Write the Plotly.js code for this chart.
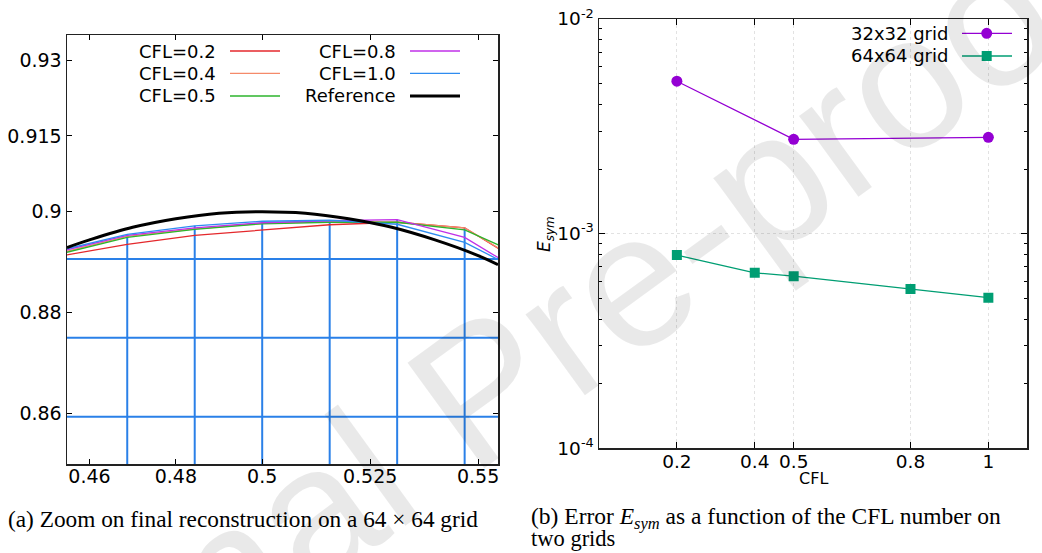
<!DOCTYPE html>
<html><head><meta charset="utf-8">
<script src="https://cdn.plot.ly/plotly-3.0.1.min.js"></script>
<style>html,body{margin:0;padding:0;background:#fff;}#chart{width:1042px;height:553px;}</style>
</head><body><div id="chart"></div>
<script>
// ---------- Panel (a): zoom on final reconstruction, 64x64 grid ----------
const meshX = [0.46875, 0.484375, 0.5, 0.515625, 0.53125, 0.546875];
const meshY = [0.859375, 0.875, 0.890625];
const cellX = [0.453125, 0.46875, 0.484375, 0.5, 0.515625, 0.53125, 0.546875, 0.5625];
const cfl02 = [0.8912, 0.8935, 0.8953, 0.8964, 0.8974, 0.8979, 0.8968, 0.8886];
const cfl04 = [0.8918, 0.8951, 0.8966, 0.8977, 0.8981, 0.8979, 0.8968, 0.8888];
const cfl05 = [0.8916, 0.8949, 0.8965, 0.8976, 0.8979, 0.8979, 0.8964, 0.8904];
const cfl08 = [0.8921, 0.8953, 0.8968, 0.8978, 0.8982, 0.8984, 0.8949, 0.8868];
const cfl10 = [0.8923, 0.8955, 0.8972, 0.8981, 0.8983, 0.8975, 0.8939, 0.8871];
const refX = [0.4548, 0.46, 0.47, 0.48, 0.49, 0.5, 0.51, 0.52, 0.53, 0.54, 0.55, 0.5546];
const refY = [0.8929, 0.8944, 0.8969, 0.8986, 0.8997, 0.9, 0.8997, 0.8986, 0.8969, 0.8944, 0.8913, 0.8895];
const aXTicks = [0.46, 0.48, 0.5, 0.525, 0.55];
const aXTickText = ['0.46', '0.48', '0.5', '0.525', '0.55'];
const aYTicks = [0.86, 0.88, 0.9, 0.915, 0.93];
const aYTickText = ['0.86', '0.88', '0.9', '0.915', '0.93'];
const aXRange = [0.4548, 0.5546];
const aYRange = [0.85, 0.935];

// ---------- Panel (b): E_sym vs CFL ----------
const cflTicks = [0.2, 0.4, 0.5, 0.8, 1];
const cflTickText = ['0.2', '0.4', '0.5', '0.8', '1'];
const grid32CFL = [0.2, 0.5, 1];
const grid32Err = [5.13e-3, 2.75e-3, 2.81e-3];
const grid64CFL = [0.2, 0.4, 0.5, 0.8, 1];
const grid64Err = [7.95e-4, 6.57e-4, 6.34e-4, 5.52e-4, 5.03e-4];
const bYTicks = [1e-4, 1e-3, 1e-2];
const bYTickText = ['10<sup>-4</sup>', '10<sup>-3</sup>', '10<sup>-2</sup>'];
const bYMinor = [2e-4,3e-4,4e-4,5e-4,6e-4,7e-4,8e-4,9e-4,2e-3,3e-3,4e-3,5e-3,6e-3,7e-3,8e-3,9e-3];

const W = 1042, H = 553;
const px = v => v / W, py = v => 1 - v / H;

const seriesA = [
  {name: 'CFL=0.2', y: cfl02, color: '#e4282c'},
  {name: 'CFL=0.4', y: cfl04, color: '#f58a6a'},
  {name: 'CFL=0.5', y: cfl05, color: '#2cb52c'},
  {name: 'CFL=0.8', y: cfl08, color: '#c030e8'},
  {name: 'CFL=1.0', y: cfl10, color: '#2e8cf0'}
];

const traces = [];
// mesh lines: horizontal full width, vertical from bottom up to the reconstructed interface
const mvx = [], mvy = [];
meshX.forEach(m => {
  const i = cellX.indexOf(m);
  const top = Math.max(...seriesA.map(s => s.y[i]));
  mvx.push(m, m, null); mvy.push(aYRange[0], top, null);
});
meshY.forEach(m => { mvx.push(aXRange[0], aXRange[1], null); mvy.push(m, m, null); });
traces.push({x: mvx, y: mvy, mode: 'lines', line: {color: '#2a80e8', width: 2}, xaxis: 'x', yaxis: 'y', showlegend: false, hoverinfo: 'skip'});
seriesA.forEach(s => traces.push({x: cellX, y: s.y, mode: 'lines', name: s.name, line: {color: s.color, width: 1.3}, xaxis: 'x', yaxis: 'y', showlegend: false}));
traces.push({x: refX, y: refY, mode: 'lines', name: 'Reference', line: {color: '#000', width: 3, shape: 'spline'}, xaxis: 'x', yaxis: 'y', showlegend: false});

traces.push({x: grid32CFL, y: grid32Err, mode: 'lines+markers', name: '32x32 grid', line: {color: '#9400d3', width: 1.3}, marker: {symbol: 'circle', size: 11, color: '#9400d3'}, xaxis: 'x2', yaxis: 'y2', showlegend: false});
traces.push({x: grid64CFL, y: grid64Err, mode: 'lines+markers', name: '64x64 grid', line: {color: '#009e73', width: 1.3}, marker: {symbol: 'square', size: 10, color: '#009e73'}, xaxis: 'x2', yaxis: 'y2', showlegend: false});

const legFont = {family: 'DejaVu Sans', size: 18, color: '#000'};
const tickFontA = {family: 'DejaVu Sans', size: 19, color: '#000'};
const tickFontB = {family: 'DejaVu Sans', size: 18.5, color: '#000'};
const annotations = [];
const shapes = [];

// legend (a)
const legA = [
  {t: 'CFL=0.2', c: '#e4282c', w: 1.3, col: 0, row: 0},
  {t: 'CFL=0.4', c: '#f58a6a', w: 1.3, col: 0, row: 1},
  {t: 'CFL=0.5', c: '#2cb52c', w: 1.3, col: 0, row: 2},
  {t: 'CFL=0.8', c: '#c030e8', w: 1.3, col: 1, row: 0},
  {t: 'CFL=1.0', c: '#2e8cf0', w: 1.3, col: 1, row: 1},
  {t: 'Reference', c: '#000', w: 3, col: 1, row: 2}
];
const rowsA = [51, 73.3, 96], textEndA = [218, 398], lineStartA = [230, 410];
legA.forEach(e => {
  annotations.push({xref: 'paper', yref: 'paper', x: px(textEndA[e.col]), y: py(rowsA[e.row]), xanchor: 'right', yanchor: 'middle', text: e.t, showarrow: false, font: legFont});
  shapes.push({type: 'line', xref: 'paper', yref: 'paper', x0: px(lineStartA[e.col]), x1: px(lineStartA[e.col] + 50), y0: py(rowsA[e.row]), y1: py(rowsA[e.row]), line: {color: e.c, width: e.w}});
});

// legend (b)
const legB = [
  {t: '32x32 grid', c: '#9400d3', sym: 'circle', row: 33.3},
  {t: '64x64 grid', c: '#009e73', sym: 'square', row: 56}
];
legB.forEach(e => {
  annotations.push({xref: 'paper', yref: 'paper', x: px(950), y: py(e.row), xanchor: 'right', yanchor: 'middle', text: e.t, showarrow: false, font: legFont});
  shapes.push({type: 'line', xref: 'paper', yref: 'paper', x0: px(962), x1: px(1012), y0: py(e.row), y1: py(e.row), line: {color: e.c, width: 1.3}});
  const r = e.sym === 'circle' ? 5.5 : 5;
  shapes.push({type: e.sym === 'circle' ? 'circle' : 'rect', xref: 'paper', yref: 'paper', x0: px(986.7 - r), x1: px(986.7 + r), y0: py(e.row + r), y1: py(e.row - r), fillcolor: e.c, line: {width: 0}});
});

// axis titles for (b)
annotations.push({xref: 'paper', yref: 'paper', x: px(545), y: py(234), textangle: -90, xanchor: 'center', yanchor: 'middle', text: '<i>E</i><sub><i>sym</i></sub>', showarrow: false, font: {family: 'DejaVu Sans', size: 17, color: '#000'}});
annotations.push({xref: 'paper', yref: 'paper', x: px(813), y: py(478), xanchor: 'center', yanchor: 'middle', text: 'CFL', showarrow: false, font: {family: 'DejaVu Sans', size: 16, color: '#000'}});

// captions
annotations.push({xref: 'paper', yref: 'paper', x: px(6), y: py(519), xanchor: 'left', yanchor: 'middle', text: '(a) Zoom on final reconstruction on a 64 × 64 grid', showarrow: false, font: {family: 'Liberation Serif', size: 23.3, color: '#000'}});
annotations.push({xref: 'paper', yref: 'paper', x: px(529), y: py(518), xanchor: 'left', yanchor: 'middle', text: '(b) Error <i>E</i><sub><i>sym</i></sub> as a function of the CFL number on', showarrow: false, font: {family: 'Liberation Serif', size: 23.5, color: '#000'}});
annotations.push({xref: 'paper', yref: 'paper', x: px(529), y: py(538), xanchor: 'left', yanchor: 'middle', text: 'two grids', showarrow: false, font: {family: 'Liberation Serif', size: 22.5, color: '#000'}});

// watermark
annotations.push({xref: 'paper', yref: 'paper', x: px(480), y: py(390), xanchor: 'center', yanchor: 'middle', text: 'Journal Pre-proof', textangle: -36, showarrow: false, font: {family: 'Liberation Sans', size: 190, color: 'rgba(0,0,0,0.085)'}});

const layout = {
  width: W, height: H,
  margin: {l: 0, r: 0, t: 0, b: 0},
  paper_bgcolor: '#fff', plot_bgcolor: '#fff',
  showlegend: false,
  xaxis: {domain: [px(67), px(498)], range: aXRange, tickmode: 'array', tickvals: aXTicks, ticktext: aXTickText, ticks: 'inside', ticklen: 5, tickcolor: '#000', showline: true, linecolor: '#222', linewidth: 1.5, mirror: 'allticks', showgrid: false, zeroline: false, tickfont: tickFontA, ticklabelstandoff: -5, anchor: 'y'},
  yaxis: {domain: [py(464), py(35)], range: aYRange, tickmode: 'array', tickvals: aYTicks, ticktext: aYTickText, ticks: 'inside', ticklen: 5, tickcolor: '#000', showline: true, linecolor: '#222', linewidth: 1.5, mirror: 'allticks', showgrid: false, zeroline: false, tickfont: tickFontA, anchor: 'x'},
  xaxis2: {domain: [px(599), px(1027.3)], range: [0, 1.1], tickmode: 'array', tickvals: cflTicks, ticktext: cflTickText, ticks: 'inside', ticklen: 6, tickcolor: '#000', showline: true, linecolor: '#222', linewidth: 1.5, mirror: 'allticks', showgrid: true, gridcolor: '#e2e2e2', griddash: 'dot', gridwidth: 1, zeroline: false, tickfont: tickFontB, ticklabelstandoff: -4, anchor: 'y2'},
  yaxis2: {domain: [py(448.3), py(19)], type: 'log', range: [-4, -2], tickmode: 'array', tickvals: bYTicks, ticktext: bYTickText, ticks: 'inside', ticklen: 6, tickcolor: '#000', showline: true, linecolor: '#222', linewidth: 1.5, mirror: 'allticks', showgrid: true, gridcolor: '#e2e2e2', griddash: 'dot', gridwidth: 1, zeroline: false, tickfont: tickFontB, anchor: 'x2',
    minor: {tickmode: 'array', tickvals: bYMinor, ticks: 'inside', ticklen: 3, tickcolor: '#000', showgrid: false}},
  annotations: annotations,
  shapes: shapes
};

Plotly.newPlot('chart', traces, layout, {staticPlot: true, displayModeBar: false});
</script>
</body></html>
